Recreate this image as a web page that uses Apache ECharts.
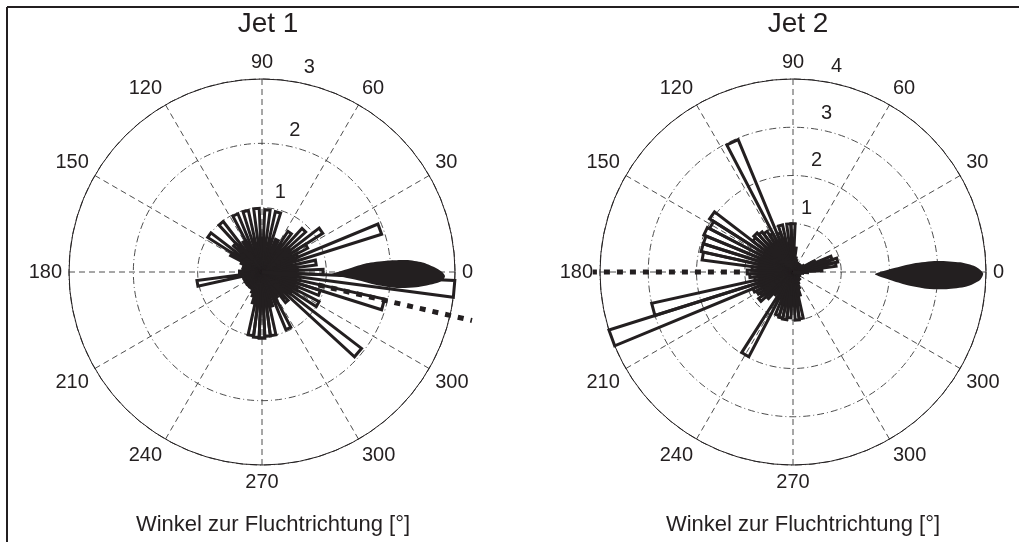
<!DOCTYPE html>
<html>
<head>
<meta charset="utf-8">
<script src="https://cdn.jsdelivr.net/npm/echarts@6/dist/echarts.min.js"></script>
<style>
  html, body { margin: 0; padding: 0; background: #fff; }
  #main { width: 1019px; height: 542px; }
</style>
</head>
<body>
<div id="main"></div>
<script>
// bin centres (deg) of the rose histograms, 5 deg wide
var binAngles = [0, 5, 10, 15, 20, 25, 30, 35, 40, 45, 50, 55, 60, 65, 70, 75, 80, 85,
  90, 95, 100, 105, 110, 115, 120, 125, 130, 135, 140, 145, 150, 155, 160, 165, 170, 175,
  180, 185, 190, 195, 200, 205, 210, 215, 220, 225, 230, 235, 240, 245, 250, 255, 260, 265,
  270, 275, 280, 285, 290, 295, 300, 305, 310, 315, 320, 325, 330, 335, 340, 345, 350, 355];
var binWidth = 5;

var jet1Counts = [0.95, 0.55, 0.85, 0.45, 1.95, 0.6, 0.8, 1.12, 0.55, 0.92, 0.45, 0.75,
  0.35, 0.55, 0.3, 0.96, 0.35, 0.97, 0.3, 0.99, 0.45, 0.98, 0.35, 0.98,
  0.55, 0.35, 0.99, 0.6, 0.4, 1.0, 0.55, 0.35, 0.25, 0.3, 0.25, 0.3,
  0.35, 0.25, 1.02, 0.3, 0.25, 0.3, 0.25, 0.3, 0.25, 0.3, 0.25, 0.3,
  0.3, 0.35, 0.4, 0.5, 1.0, 1.02, 1.03, 1.0, 1.0, 0.55, 0.4, 0.97,
  0.45, 0.4, 0.6, 0.45, 1.95, 0.55, 1.0, 0.6, 0.95, 1.95, 0.6, 3.0];

var jet2Counts = [0.3, 0.6, 0.9, 0.95, 0.85, 0.5, 0.25, 0.2, 0.2, 0.15, 0.2, 0.15,
  0.2, 0.15, 0.2, 0.25, 0.3, 0.5, 1.0, 1.0, 0.55, 1.0, 0.85, 2.97,
  0.9, 1.0, 1.05, 1.1, 1.05, 2.05, 1.95, 2.0, 1.95, 1.95, 1.9, 0.85,
  0.95, 0.9, 0.8, 3.0, 4.0, 0.9, 0.85, 0.8, 0.9, 0.75, 0.6, 0.5,
  1.98, 0.6, 0.95, 0.98, 1.0, 0.95, 0.45, 1.0, 0.98, 0.5, 0.35, 0.25,
  0.2, 0.15, 0.2, 0.15, 0.15, 0.1, 0.15, 0.1, 0.15, 0.1, 0.15, 0.2];

// angle tick labels (the original prints "300" at the 330 position too)
var angleLabels = ['0', '30', '60', '90', '120', '150', '180', '210', '240', '270', '300', '300'];
var jet1Rings = [1, 2, 3];
var jet2Rings = [1, 2, 3, 4];

// filled lobe outline, [radius, angle]
var jet1Lobe = [[1.05, 357.5], [1.37, 2.4], [1.63, 4.75], [1.94, 5.2], [2.25, 4.75], [2.5, 3.4],
  [2.675, 1.66], [2.8, 0], [2.845, 358.75], [2.817, 357.47], [2.725, 356.4], [2.41, 354.35],
  [2.11, 353.25], [1.79, 353.55], [1.48, 355.2], [1.17, 356.95]];
var jet2Lobe = [[1.70, 358.6], [2.08, 2.1], [2.50, 4.1], [2.99, 4.4], [3.47, 3.3], [3.78, 1.7],
  [3.94, 359.6], [3.88, 357.55], [3.61, 355.2], [3.2, 353.6], [2.79, 352.9], [2.37, 353.5],
  [2.02, 355.3], [1.77, 357.3]];

// escape direction (thick dotted line), [radius, angle]
var jet1Escape = [[0.9, 347], [3.35, 347]];
var jet2Escape = [[1.1, 180], [4.15, 180]];

var ink = '#231f20';
var grid = '#3a3a3a';
var font = '"Liberation Sans", Arial, sans-serif';

function zip(counts) {
  return counts.map(function (c, i) { return [c, binAngles[i]]; });
}

function roseItem(params, api) {
  var r = api.value(0), a = api.value(1);
  var o = api.coord([0, a]);
  var p1 = api.coord([r, a - binWidth / 2]);
  var p2 = api.coord([r, a + binWidth / 2]);
  return {
    type: 'polygon',
    shape: { points: [o, p1, p2] },
    style: { fill: 'none', stroke: ink, lineWidth: 3, lineJoin: 'miter' }
  };
}

function lobeItem(points) {
  return function (params, api) {
    if (params.dataIndex !== 0) return null;
    var pts = points.map(function (p) { return api.coord(p); });
    return { type: 'polygon', shape: { points: pts, smooth: 0.25 }, style: { fill: ink } };
  };
}

// radial dotted line; the outer end lies beyond the axis max, so extend
// the in-range direction by the ratio of radii
function escapeItem(points) {
  return function (params, api) {
    if (params.dataIndex !== 0) return null;
    var a = points[0][1];
    var o = api.coord([0, a]);
    var u = api.coord([1, a]);
    var pts = points.map(function (p) {
      return [o[0] + (u[0] - o[0]) * p[0], o[1] + (u[1] - o[1]) * p[0]];
    });
    return { type: 'polyline', shape: { points: pts }, style: { stroke: ink, lineWidth: 5, lineDash: [6, 7], fill: null } };
  };
}

function ringLabelItem(params, api) {
  var t = api.value(0), a = api.value(1);
  var p = api.coord([t, a]);
  var o = api.coord([0, a]);
  var dx = p[0] - o[0], dy = p[1] - o[1];
  var len = Math.sqrt(dx * dx + dy * dy);
  return {
    type: 'text',
    x: p[0] + dx / len * 17,
    y: p[1] + dy / len * 17,
    style: { text: String(t), fill: ink, font: '20px ' + font, align: 'center', verticalAlign: 'middle' }
  };
}

function angleAxis(idx) {
  return {
    polarIndex: idx, type: 'value', min: 0, max: 360, interval: 30,
    startAngle: 0, clockwise: false,
    axisLine: { show: true, lineStyle: { color: ink, width: 1 } },
    axisTick: { show: false },
    axisLabel: {
      margin: 7, color: ink, fontSize: 20, fontFamily: font,
      formatter: function (v) { return v >= 360 ? '' : angleLabels[Math.round(v / 30)]; }
    },
    splitLine: { show: true, lineStyle: { color: grid, width: 0.9, type: [6, 4] } }
  };
}

function radiusAxis(idx, max) {
  return {
    polarIndex: idx, type: 'value', min: 0, max: max, interval: 1,
    axisLine: { show: false }, axisTick: { show: false }, axisLabel: { show: false },
    splitLine: { show: true, lineStyle: { color: grid, width: 0.9, type: [7, 3, 1, 3] } }
  };
}

var chart = echarts.init(document.getElementById('main'));

var option = {
  backgroundColor: '#fff',
  animation: false,
  title: [
    { text: 'Jet 1', left: 263, top: 5, textAlign: 'center', textStyle: { fontSize: 28, fontWeight: 'normal', color: ink, fontFamily: font } },
    { text: 'Jet 2', left: 793, top: 5, textAlign: 'center', textStyle: { fontSize: 28, fontWeight: 'normal', color: ink, fontFamily: font } },
    { text: 'Winkel zur Fluchtrichtung [°]', left: 268, top: 509, textAlign: 'center', textStyle: { fontSize: 22, fontWeight: 'normal', color: ink, fontFamily: font } },
    { text: 'Winkel zur Fluchtrichtung [°]', left: 798, top: 509, textAlign: 'center', textStyle: { fontSize: 22, fontWeight: 'normal', color: ink, fontFamily: font } }
  ],
  polar: [
    { center: [262, 272], radius: 193 },
    { center: [793, 272], radius: 193 }
  ],
  angleAxis: [angleAxis(0), angleAxis(1)],
  radiusAxis: [radiusAxis(0, 3), radiusAxis(1, 4)],
  graphic: [
    { type: 'line', shape: { x1: 7, y1: 7, x2: 1019, y2: 7 }, style: { stroke: ink, lineWidth: 2 } },
    { type: 'line', shape: { x1: 7, y1: 7, x2: 7, y2: 542 }, style: { stroke: ink, lineWidth: 2 } }
  ],
  series: [
    { type: 'custom', coordinateSystem: 'polar', polarIndex: 0, encode: { radius: 0, angle: 1 }, renderItem: roseItem, data: zip(jet1Counts) },
    { type: 'custom', coordinateSystem: 'polar', polarIndex: 1, encode: { radius: 0, angle: 1 }, renderItem: roseItem, data: zip(jet2Counts) },
    { type: 'custom', coordinateSystem: 'polar', polarIndex: 0, encode: { radius: 0, angle: 1 }, renderItem: lobeItem(jet1Lobe), data: jet1Lobe },
    { type: 'custom', coordinateSystem: 'polar', polarIndex: 1, encode: { radius: 0, angle: 1 }, renderItem: lobeItem(jet2Lobe), data: jet2Lobe },
    { type: 'custom', coordinateSystem: 'polar', polarIndex: 0, encode: { radius: 0, angle: 1 }, renderItem: escapeItem(jet1Escape), data: jet1Escape, clip: false },
    { type: 'custom', coordinateSystem: 'polar', polarIndex: 1, encode: { radius: 0, angle: 1 }, renderItem: escapeItem(jet2Escape), data: jet2Escape, clip: false },
    { type: 'custom', coordinateSystem: 'polar', polarIndex: 0, encode: { radius: 0, angle: 1 }, renderItem: ringLabelItem,
      data: jet1Rings.map(function (t) { return [t, 77]; }) },
    { type: 'custom', coordinateSystem: 'polar', polarIndex: 1, encode: { radius: 0, angle: 1 }, renderItem: ringLabelItem,
      data: jet2Rings.map(function (t) { return [t, 78]; }) }
  ]
};

chart.setOption(option);
window.onresize = function () { chart.resize(); };
</script>
</body>
</html>
